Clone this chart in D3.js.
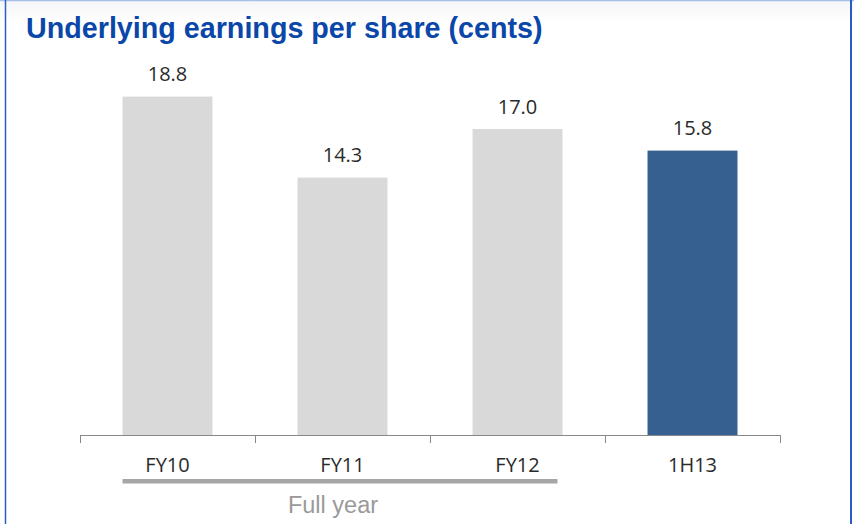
<!DOCTYPE html>
<html>
<head>
<meta charset="utf-8">
<script src="https://cdn.jsdelivr.net/npm/d3@7"></script>
<style>
  html, body { margin: 0; padding: 0; background: #fff; }
  svg { display: block; }
</style>
</head>
<body>
<svg id="chart" width="854" height="524"></svg>
<script>
const categories = ["FY10", "FY11", "FY12", "1H13"];
const values = [18.8, 14.3, 17.0, 15.8];
const valueLabels = ["18.8", "14.3", "17.0", "15.8"];
const highlighted = ["1H13"];
const groupCategories = ["FY10", "FY11", "FY12"];
const groupLabel = "Full year";
const title = "Underlying earnings per share (cents)";

const svg = d3.select("#chart");
const W = 854, H = 524;

// background gradient at top
const defs = svg.append("defs");
const grad = defs.append("linearGradient").attr("id", "topfade").attr("x1", 0).attr("x2", 0).attr("y1", 0).attr("y2", 1);
grad.append("stop").attr("offset", "0%").attr("stop-color", "#f4f5f7");
grad.append("stop").attr("offset", "100%").attr("stop-color", "#ffffff");
svg.append("rect").attr("x", 0).attr("y", 0).attr("width", W).attr("height", 22).attr("fill", "url(#topfade)");

// borders
svg.append("line").attr("x1", 0).attr("x2", W).attr("y1", 0.5).attr("y2", 0.5)
  .attr("stroke", "#a9c0e8").attr("stroke-width", 1.5);
svg.append("line").attr("x1", 5.5).attr("x2", 5.5).attr("y1", 0).attr("y2", H)
  .attr("stroke", "#2a5fc9").attr("stroke-width", 1.5);
svg.append("line").attr("x1", 851).attr("x2", 851).attr("y1", 0).attr("y2", H)
  .attr("stroke", "#2a5cbf").attr("stroke-width", 2);

// title
svg.append("text").attr("x", 26).attr("y", 38)
  .attr("font-family", "Liberation Sans, Arial, sans-serif")
  .attr("font-weight", "bold").attr("font-size", 28.7)
  .attr("fill", "#0b47a8").text(title);

const x = d3.scaleBand().domain(categories).range([80, 780]).paddingInner(0.486).paddingOuter(0.243);
const y = d3.scaleLinear().domain([0, 20]).range([435, 75]);

// bars
svg.append("g").selectAll("rect").data(categories).join("rect")
  .attr("x", d => x(d))
  .attr("y", (d, i) => y(values[i]))
  .attr("width", x.bandwidth())
  .attr("height", (d, i) => y(0) - y(values[i]))
  .attr("fill", d => highlighted.includes(d) ? "#35608f" : "#d9d9d9");

// value labels
svg.append("g").selectAll("text").data(categories).join("text")
  .attr("x", d => x(d) + x.bandwidth() / 2)
  .attr("y", (d, i) => y(values[i]) - 15.5)
  .attr("text-anchor", "middle")
  .attr("font-family", "Open Sans, sans-serif")
  .attr("font-size", 20)
  .attr("fill", "#2a2a2a")
  .text((d, i) => valueLabels[i]);

// axis
const axisX = d3.scalePoint().domain(d3.range(categories.length + 1)).range([80, 780]);
const axisG = svg.append("g");
axisG.append("line").attr("x1", 80).attr("x2", 780).attr("y1", 435.5).attr("y2", 435.5)
  .attr("stroke", "#888").attr("stroke-width", 1);
axisG.selectAll("line.tick").data(axisX.domain()).join("line").attr("class", "tick")
  .attr("x1", d => Math.round(axisX(d)) + 0.5).attr("x2", d => Math.round(axisX(d)) + 0.5)
  .attr("y1", 435).attr("y2", 443)
  .attr("stroke", "#888").attr("stroke-width", 1);

// category labels
svg.append("g").selectAll("text").data(categories).join("text")
  .attr("x", d => x(d) + x.bandwidth() / 2)
  .attr("y", 472)
  .attr("text-anchor", "middle")
  .attr("font-family", "Open Sans, sans-serif")
  .attr("font-size", 20)
  .attr("fill", "#2a2a2a")
  .text(d => d);

// group underline
const gx0 = x(groupCategories[0]);
const gx1 = x(groupCategories[groupCategories.length - 1]) + x.bandwidth() - 5;
svg.append("rect").attr("x", gx0).attr("y", 479).attr("width", gx1 - gx0).attr("height", 4.5)
  .attr("fill", "#a6a6a6");
svg.append("text").attr("x", 333).attr("y", 513)
  .attr("text-anchor", "middle")
  .attr("font-family", "Liberation Sans, Arial, sans-serif")
  .attr("font-size", 23.5)
  .attr("fill", "#9a9a9a")
  .text(groupLabel);
</script>
</body>
</html>
